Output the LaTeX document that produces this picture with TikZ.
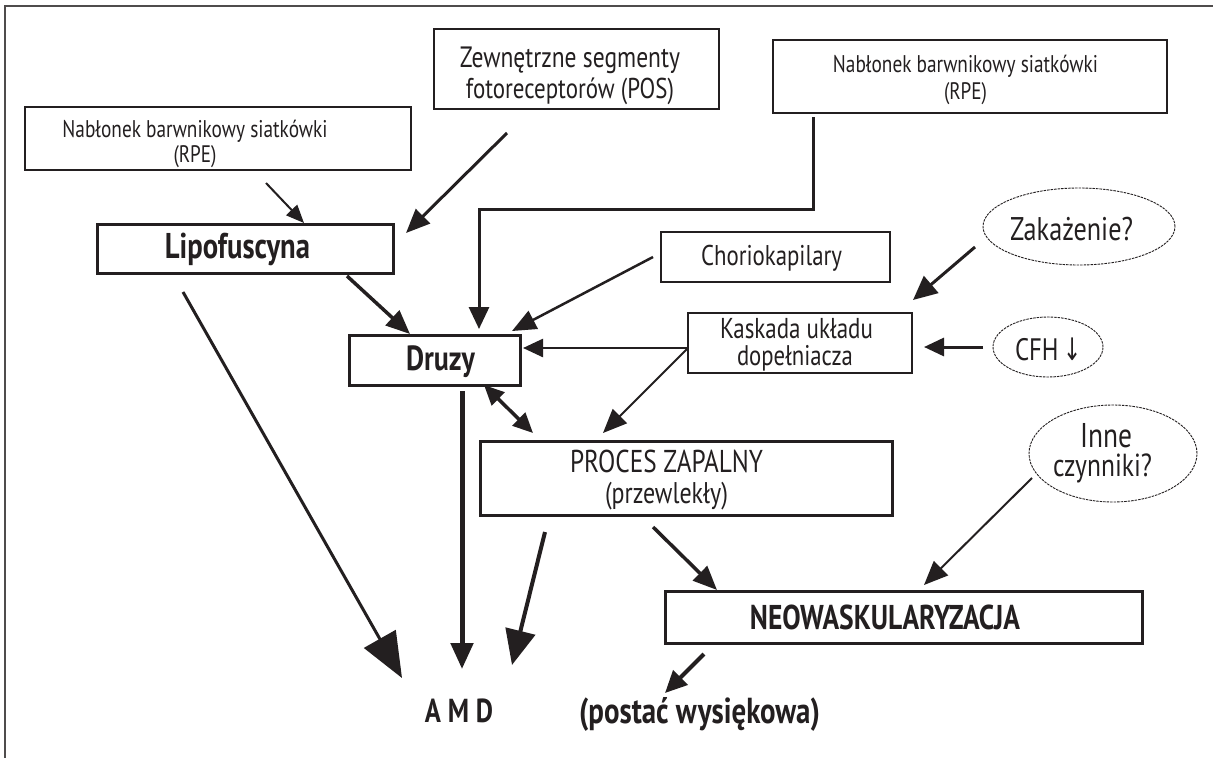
\documentclass[tikz,border=0pt]{standalone}
\usepackage{fontspec}
\setmainfont{PT Sans}[FakeStretch=0.8]
\newfontfamily\symf{DejaVu Sans}[FakeStretch=0.7]
\usetikzlibrary{arrows.meta,shapes.geometric}
\definecolor{ink}{HTML}{231F20}
\newcommand\fw[2]{\resizebox{#1pt}{!}{#2}}
\begin{document}
\begin{tikzpicture}[x=1pt,y=-1pt,
  thinbox/.style={draw=ink, line width=1.5pt, inner sep=0pt, rectangle},
  thickbox/.style={draw=ink, line width=3pt, inner sep=0pt, rectangle},
  oval/.style={draw=ink, ellipse, line width=0.9pt, dash pattern=on 2.5pt off 1pt, inner sep=0pt},
  txt/.style={inner sep=0pt, anchor=base, text=ink, font=\fontsize{20}{24}\selectfont},
  arr/.style={draw=ink, line width=3pt, -{Triangle[length=24pt,width=20pt]}},
]
\useasboundingbox (0,0) rectangle (1213,758);
\fill[white] (0,0) rectangle (1213,758);
% frame
\draw[ink!80, line width=1.4pt] (1213,6) -- (5,6) -- (5,758);

% shapes
\node[thinbox, minimum width=386pt, minimum height=63pt] (rpeL) at (218,138.5) {};
\node[thinbox, minimum width=285pt, minimum height=80pt] (pos) at (576.5,69) {};
\node[thinbox, minimum width=394pt, minimum height=73pt] (rpeR) at (970,76.5) {};
\node[thickbox, minimum width=296pt, minimum height=49pt] (lipo) at (245,248.5) {};
\node[thinbox, minimum width=229pt, minimum height=50pt] (chorio) at (775.5,257) {};
\node[oval, minimum width=192pt, minimum height=77pt] (zak) at (1079,226.5) {};
\node[thickbox, minimum width=171pt, minimum height=50pt] (druzy) at (434.5,360) {};
\node[thinbox, minimum width=224pt, minimum height=60pt] (kask) at (800,343) {};
\node[oval, minimum width=110pt, minimum height=60pt] (cfh) at (1048,347) {};
\node[thickbox, minimum width=412pt, minimum height=74pt] (proc) at (686,478) {};
\node[oval, minimum width=168pt, minimum height=97pt] (inne) at (1113,453.5) {};
\node[thickbox, minimum width=477pt, minimum height=52pt] (neo) at (903.5,617) {};

% texts
\node[txt] (rpeLa) at (195,137) {\fw{265}{Nabłonek barwnikowy siatkówki}};
\node[txt] (rpeLb) at (195,162) {\fw{43}{(RPE)}};
\node[txt] (posa) at (570,67) {\fw{220}{Zewnętrzne segmenty}};
\node[txt] (posb) at (570,98) {\fw{208}{fotoreceptorów (POS)}};
\node[txt] (rpeRa) at (965.5,72) {\fw{265}{Nabłonek barwnikowy siatkówki}};
\node[txt] (rpeRb) at (965.5,99) {\fw{43}{(RPE)}};
\node[txt] (lipot) at (237.5,258) {\fw{145}{\bfseries Lipofuscyna}};
\node[txt] (choriot) at (771.5,265) {\fw{141}{Choriokapilary}};
\node[txt] (zakt) at (1071.5,240) {\fw{123}{Zakażenie?}};
\node[txt] (druzyt) at (440.5,370) {\fw{69}{\bfseries Druzy}};
\node[txt] (kaska) at (796.5,338) {\fw{153}{Kaskada układu}};
\node[txt] (kaskb) at (795,365) {\fw{116}{dopełniacza}};
\node[txt] (cfht) at (1048.5,360) {\fw{67}{CFH\,{\symf ↓}}};
\node[txt] (proca) at (666.5,472) {\fw{193}{PROCES ZAPALNY}};
\node[txt] (procb) at (666.5,503) {\fw{123}{(przewlekły)}};
\node[txt] (innea) at (1106,447) {\fw{52}{Inne}};
\node[txt] (inneb) at (1102.5,476) {\fw{99}{czynniki?}};
\node[txt] (neot) at (885,629) {\fw{270}{\bfseries NEOWASKULARYZACJA}};
\node[txt] (amd) at (459,722) {\fw{68}{\bfseries A M D}};
\node[txt] (postac) at (699.5,723) {\fw{241}{\bfseries (postać wysiękowa)}};

% connector end points
\coordinate (a1s) at (266,183); \coordinate (a1e) at (304,223);
\coordinate (a2s) at (507,133); \coordinate (a2e) at (406,233);
\coordinate (a3s) at (813,117); \coordinate (a3m) at (813,209); \coordinate (a3n) at (479,209); \coordinate (a3e) at (479,329);
\coordinate (a4s) at (347,276); \coordinate (a4e) at (410,334);
\coordinate (a5s) at (653,257); \coordinate (a5e) at (512,331);
\coordinate (a6s) at (975,247); \coordinate (a6e) at (913,300);
\coordinate (a7s) at (983,347); \coordinate (a7e) at (924,347);
\coordinate (a8s) at (688,348); \coordinate (a8e) at (523,348);
\coordinate (a9e) at (603,433);
\coordinate (a10s) at (484,385); \coordinate (a10e) at (533,433);
\coordinate (a11s) at (462,391); \coordinate (a11e) at (462,669);
\coordinate (a12s) at (183,292); \coordinate (a12e) at (402,678);
\coordinate (a13s) at (545,532); \coordinate (a13e) at (512,665);
\coordinate (a14s) at (653,527); \coordinate (a14e) at (717,590);
\coordinate (a15s) at (1032,478); \coordinate (a15e) at (924,585);
\coordinate (a16s) at (704,654); \coordinate (a16e) at (665,693);

% connectors
\draw[arr, line width=2pt, -{Triangle[length=18pt,width=15pt]}] (a1s) -- (a1e);
\draw[arr] (a2s) -- (a2e);
\draw[arr, -{Triangle[length=22pt,width=20pt]}] (a3s) -- (a3m) -- (a3n) -- (a3e);
\draw[arr, line width=3.5pt] (a4s) -- (a4e);
\draw[arr, line width=2.5pt] (a5s) -- (a5e);
\draw[arr, -{Triangle[length=24pt,width=22pt]}] (a6s) -- (a6e);
\draw[arr, -{Triangle[length=20pt,width=18pt]}] (a7s) -- (a7e);
\draw[arr, line width=2.5pt, -{Triangle[length=20pt,width=18pt]}] (a8s) -- (a8e);
\draw[arr, line width=2pt] (a8s) -- (a9e);
\draw[arr, line width=3.5pt, {Triangle[length=20pt,width=18pt]}-{Triangle[length=20pt,width=18pt]}] (a10s) -- (a10e);
\draw[arr, line width=5pt, -{Triangle[length=26pt,width=22pt]}] (a11s) -- (a11e);
\draw[arr, -{Triangle[length=45pt,width=36pt]}] (a12s) -- (a12e);
\draw[arr, line width=4pt, -{Triangle[length=35pt,width=30pt]}] (a13s) -- (a13e);
\draw[arr, line width=3.5pt] (a14s) -- (a14e);
\draw[arr, line width=2pt] (a15s) -- (a15e);
\draw[arr, line width=4pt, -{Triangle[length=22pt,width=20pt]}] (a16s) -- (a16e);
\end{tikzpicture}
\end{document}
